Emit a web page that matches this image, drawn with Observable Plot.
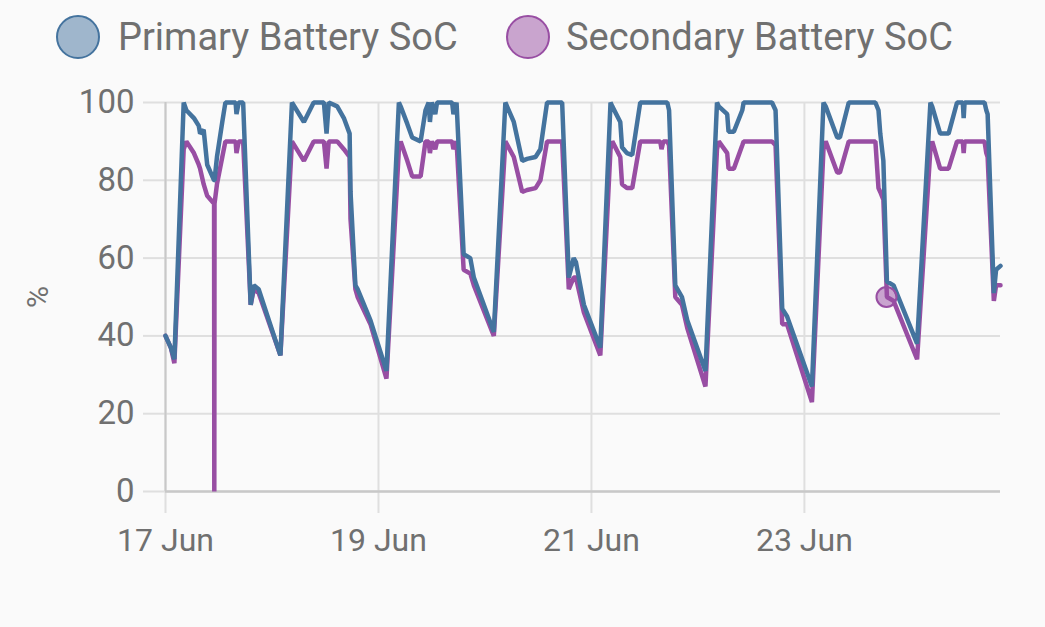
<!DOCTYPE html>
<html>
<head>
<meta charset="utf-8">
<script src="https://cdn.jsdelivr.net/npm/d3@7"></script>
<script src="https://cdn.jsdelivr.net/npm/@observablehq/plot@0.6"></script>
<style>
  html, body { margin: 0; padding: 0; background: #fafafa; }
  body { width: 1045px; height: 627px; overflow: hidden; font-family: Roboto, sans-serif; }
  #legend { position: relative; height: 75px; width: 1045px; }
  .sw { position: absolute; top: 15px; width: 40px; height: 40px; border-radius: 50%; border: 2px solid; }
  .lab { position: absolute; top: 15px; height: 44px; line-height: 44px; font-size: 38px; color: #707070; white-space: nowrap; }
  #chart svg { display: block; }
</style>
</head>
<body>
<div id="legend"></div>
<div id="chart"></div>
<script>
// ---- data (hours since 17 Jun 00:00) ----
const seriesNames = ["Primary Battery SoC", "Secondary Battery SoC"];
const seriesColors = ["#44739e", "#984ea3"];
const seriesFills = ["#9fb6cc", "#c9a4ce"];

const hours = [
  0, 1.2, 2.0, 4.1, 4.7, 6.4, 7.5, 7.8, 8.6, 9.4, 10.95, 11.0, 11.05, 11.6, 12.8, 13.5, 15.8, 16.0, 16.5, 17.5, 19.2, 19.9, 21.0, 25.9,
  28.5, 31.2, 33.4, 35.7, 36.3, 36.8, 38.7, 40.2, 41.5, 41.7, 42.8, 43.3, 46.2, 49.8,
  52.6, 53.0, 54.5, 55.6, 57.5, 58.6, 59.3, 59.6, 60.0, 60.8, 61.2, 64.6, 64.9, 65.6, 67.2, 68.7, 69.5, 74.0,
  76.6, 78.5, 80.4, 81.5, 83.4, 84.5, 86.0, 89.4, 90.9, 92.0, 92.5, 94.3, 98.0,
  100.3, 100.7, 102.5, 102.9, 104.0, 105.2, 107.0, 111.5, 111.8, 112.2, 113.1, 113.5, 114.9, 116.4, 117.6, 121.7,
  124.3, 124.7, 126.6, 126.9, 128.1, 130.0, 130.3, 136.7, 137.5, 139.0, 140.1, 145.7,
  148.3, 148.8, 151.4, 152.0, 154.0, 160.0, 160.7, 161.1, 161.8, 162.6, 164.1, 169.4,
  172.4, 172.8, 174.6, 176.5, 178.4, 179.7, 179.9, 180.1, 184.6, 185.0, 185.3, 186.7, 187.2, 188.2
];

const primarySoc = [
  40, 37, 34, 100, 98, 96, 94, 92, 93, 84, 80, 80, 80, 86, 95, 100, 100, 97, 100, 100, 48, 53, 52, 35,
  100, 95, 100, 100, 92, 100, 99, 96, 92, 77, 53, 52, 44, 31,
  100, 99, 94.5, 91, 90, 98, 100, 95, 100, 97, 100, 100, 97, 100, 61, 60, 55, 41,
  100, 95, 85, 85.5, 86, 88, 100, 100, 55, 60, 59, 48, 37,
  100, 99, 95, 88.5, 87, 86.5, 100, 100, 100, 100, 100, 98, 53, 50, 44, 31,
  100, 99, 97, 92.5, 92.5, 98, 100, 100, 98, 47, 45, 27,
  100, 99, 91, 91, 100, 100, 98, 92, 85, 54, 53, 38,
  100, 99, 92, 92, 100, 100, 96, 100, 100, 98, 97, 51, 57, 58
];

const secondarySoc = [
  40, 37, 33, 88, 90, 87, 84, 83, 79, 76, 74, 0, 74, 79, 86, 90, 90, 87, 90, 90, 48, 52, 51, 35,
  90, 85, 90, 90, 83, 90, 90, 88, 86, 70, 52, 50, 43, 29,
  88, 90, 85, 81, 81, 90, 90, 87, 90, 88, 90, 90, 88, 90, 57, 56, 53, 40,
  90, 86, 77, 77.5, 78, 80, 90, 90, 52, 55, 55, 46, 35,
  88, 90, 86, 79, 78, 78, 90, 90, 88, 90, 90, 89, 50, 48, 42, 27,
  88, 90, 87, 83, 83, 89, 90, 90, 89, 43, 43, 23,
  88, 90, 82, 82, 90, 90, 78, 77, 75, 50, 49, 34,
  88, 90, 83, 83, 90, 90, 87, 90, 90, 87, 86, 49, 53, 53
];

const hoverHour = 162.5;
const hoverValue = 50;

const yTicks = [0, 20, 40, 60, 80, 100];
const xTickDays = ["2024-06-17", "2024-06-19", "2024-06-21", "2024-06-23"];
const startDay = "2024-06-17";
const endHour = 188.2;
const yLabel = "%";

// ---- build ----
const t0 = Date.parse(startDay + "T00:00:00Z");
const toDate = h => new Date(t0 + h * 3600e3);
const primaryRows = hours.map((h, i) => ({t: toDate(h), v: primarySoc[i]}));
const secondaryRows = hours.map((h, i) => ({t: toDate(h), v: secondarySoc[i]}));
const xTicks = xTickDays.map(d => new Date(d + "T00:00:00Z"));

// legend
const legend = document.getElementById("legend");
const legendPos = [[56, 118], [506, 566]];
seriesNames.forEach((name, i) => {
  const sw = document.createElement("div");
  sw.className = "sw";
  sw.style.left = legendPos[i][0] + "px";
  sw.style.background = seriesFills[i];
  sw.style.borderColor = seriesColors[i];
  legend.appendChild(sw);
  const lab = document.createElement("div");
  lab.className = "lab";
  lab.style.left = legendPos[i][1] + "px";
  lab.textContent = name;
  legend.appendChild(lab);
});

const gridColor = "#dfdfdf";
const axisColor = "#c8c8c8";
const textColor = "#707070";

const chart = Plot.plot({
  width: 1045,
  height: 552,
  marginTop: 27,
  marginBottom: 136,
  marginLeft: 165,
  marginRight: 45,
  style: {fontFamily: "Roboto, sans-serif", background: "transparent", color: textColor},
  x: {type: "utc", domain: [toDate(0), toDate(endHour)]},
  y: {domain: [0, 100]},
  marks: [
    Plot.gridY(yTicks, {stroke: gridColor, strokeOpacity: 1, strokeWidth: 2}),
    Plot.gridX(xTicks, {stroke: gridColor, strokeOpacity: 1, strokeWidth: 2}),
    Plot.axisY(yTicks, {tickSize: 22, tickPadding: 9, fontSize: 33, stroke: gridColor, strokeWidth: 2, fill: textColor, label: null, tickFormat: d => String(d)}),
    Plot.axisX(xTicks, {tickSize: 22, tickPadding: 15, fontSize: 32, stroke: gridColor, strokeWidth: 2, fill: textColor, label: null, tickFormat: d3.utcFormat("%-d %b")}),
    Plot.ruleX([toDate(0)], {stroke: axisColor, strokeWidth: 2}),
    Plot.ruleY([0], {stroke: axisColor, strokeWidth: 2.5}),
    Plot.text([yLabel], {frameAnchor: "left", dx: -127, dy: 11, rotate: -90, fontSize: 30, fill: textColor}),
    Plot.line(secondaryRows, {x: "t", y: "v", stroke: seriesColors[1], strokeWidth: 4.5, curve: "linear", strokeLinejoin: "miter"}),
    Plot.line(primaryRows, {x: "t", y: "v", stroke: seriesColors[0], strokeWidth: 4.5, curve: "linear", strokeLinejoin: "miter"}),
    Plot.dot([{t: toDate(hoverHour), v: hoverValue}], {x: "t", y: "v", r: 10, fill: seriesColors[1], fillOpacity: 0.5, stroke: seriesColors[1], strokeWidth: 2})
  ]
});
document.getElementById("chart").appendChild(chart);
</script>
</body>
</html>
